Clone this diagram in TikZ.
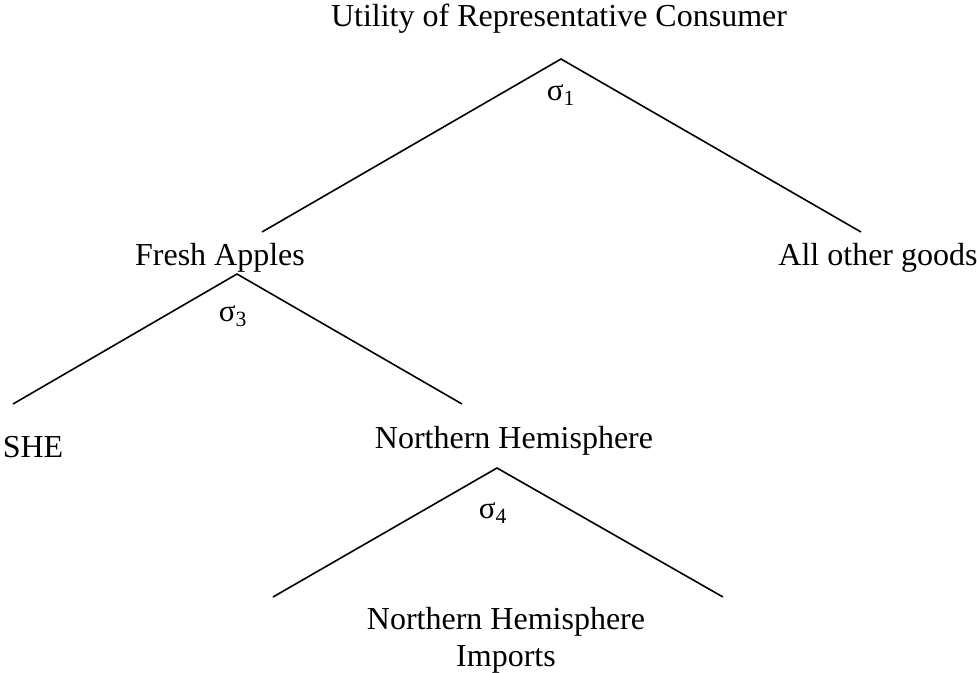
\documentclass[tikz,border=0pt]{standalone}
\usepackage{fontspec}
\setmainfont{Liberation Serif}

\begin{document}
\begin{tikzpicture}[x=1pt, y=-1pt, line width=1.6pt]

	\tikzset{
		good/.style={font=\fontsize{32}{37}\selectfont, inner sep=0pt, anchor=base},
		elast/.style={font=\fontsize{31}{34}\selectfont, inner sep=0pt, anchor=base}
	}

	% \sig#subscript
	\def\sig#1{σ\textsubscript{#1}}

	% frame
	\useasboundingbox (0, 0) rectangle (977, 672);

	% goods
	\node[good] (util)    at (559, 26)  {Utility of Representative Consumer};
	\node[good] (fresh)   at (220, 265) {Fresh Apples};
	\node[good] (other)   at (878, 265) {All other goods};
	\node[good] (she)     at (33, 457)  {SHE};
	\node[good] (north)   at (514, 448) {Northern Hemisphere};
	\node[good, anchor=north, align=center] (imports) at (506, 606) {Northern Hemisphere\\Imports};

	% forks: number/apex x/apex y/left x/right x/bottom y/subscript/label x/label y
	\foreach \n/\x/\y/\l/\r/\b/\s/\sx/\sy in {
		1/561/59/262/861/232/1/561/100,
		2/237/274/13/462/404/3/233/321,
		3/497/468/273/723/597/4/493/518
	} {
		\coordinate (top\n)   at (\x, \y);
		\coordinate (left\n)  at (\l, \b);
		\coordinate (right\n) at (\r, \b);
		\draw (left\n) -- (top\n) -- (right\n);
		\node[elast] (sigma\n) at (\sx, \sy) {\sig{\s}};
	}
\end{tikzpicture}
\end{document}
